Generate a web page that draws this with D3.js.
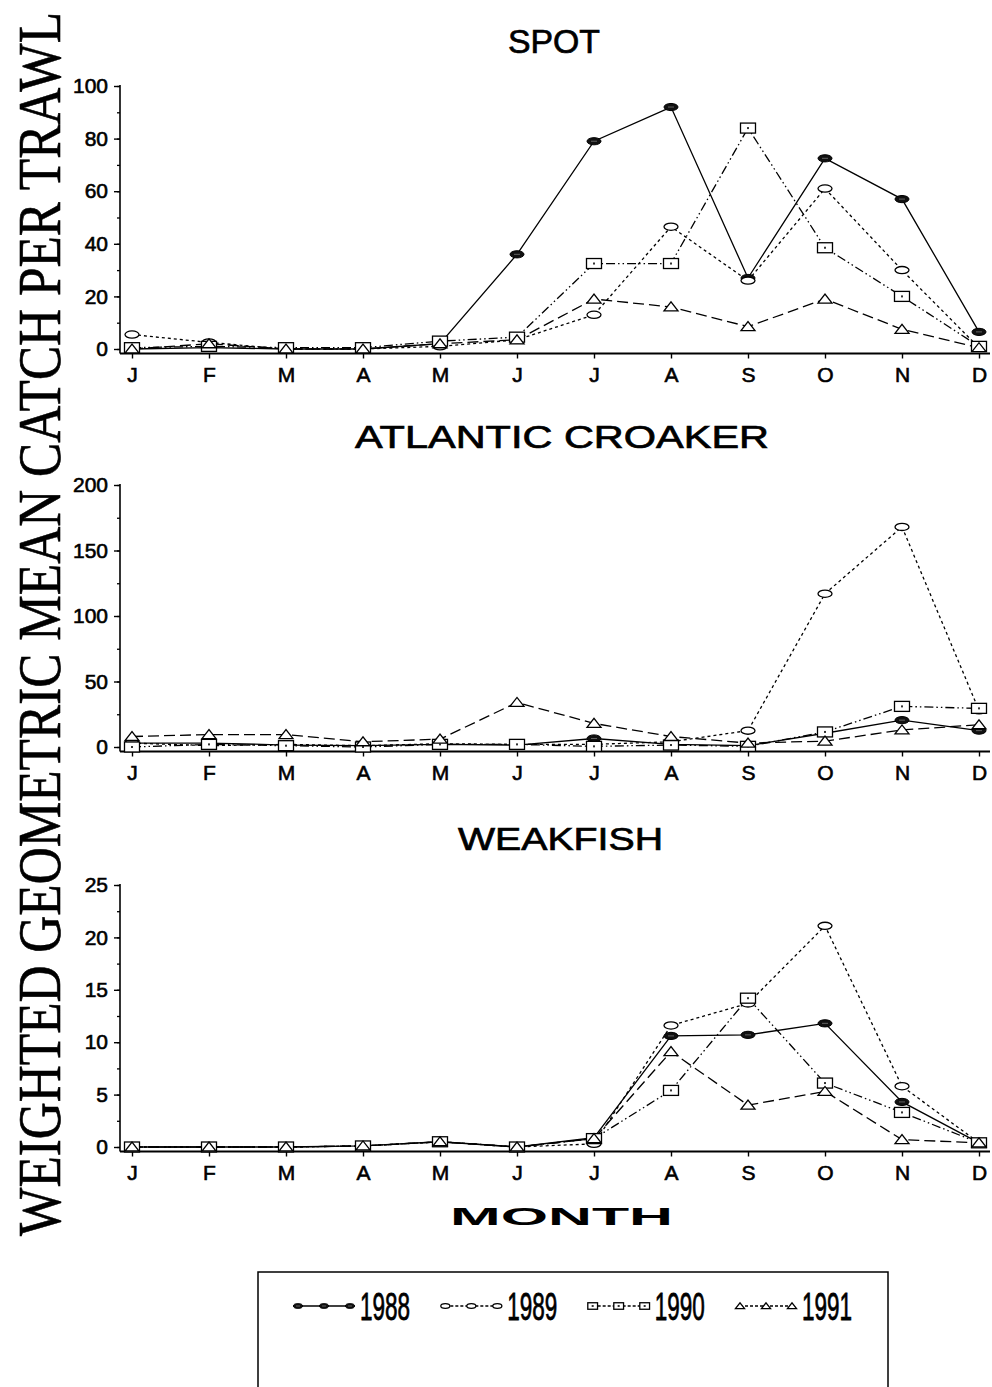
<!DOCTYPE html>
<html>
<head>
<meta charset="utf-8">
<script src="https://cdn.jsdelivr.net/npm/d3@7"></script>
<style>
  html, body { margin: 0; padding: 0; background: #fff; }
  svg { display: block; }
</style>
</head>
<body>
<script>
// Month labels along each x axis
const months = ["J", "F", "M", "A", "M", "J", "J", "A", "S", "O", "N", "D"];
const years = ["1988", "1989", "1990", "1991"];

// Spot: weighted geometric mean catch per trawl, Jan..Dec
const spot1988 = [0, 0.5, 0, 0, 2, 36, 79, 92, 27, 72.5, 57, 6.5];
const spot1989 = [5.5, 2.5, 0, 0, 1, 3.5, 13, 46.5, 26, 61, 30, 0.5];
const spot1990 = [0.5, 1, 0.5, 0.5, 3, 4.5, 32.5, 32.5, 84, 38.5, 20, 1];
const spot1991 = [0, 2, 0, 0, 2, 3.5, 19, 16, 8.5, 19, 7.5, 0.5];

// Atlantic croaker
const croaker1988 = [3, 3, 1.5, 1, 2, 1.5, 6.5, 2, 1, 10.5, 20.5, 12.5];
const croaker1989 = [3, 1, 2, 1, 2.5, 2, 2, 4, 12.5, 117, 168, 28];
const croaker1990 = [0, 2, 1, 0, 2, 2, 0.5, 1.5, 0.5, 11.5, 31, 29.5];
const croaker1991 = [8, 9.5, 9.5, 4, 6, 34, 18, 8, 3, 4.5, 13, 17];

// Weakfish
const weak1988 = [0, 0, 0, 0.1, 0.5, 0, 0.9, 10.6, 10.7, 11.8, 4.3, 0.4];
const weak1989 = [0, 0, 0, 0.1, 0.5, 0, 0.3, 11.6, 13.7, 21.1, 5.8, 0.4];
const weak1990 = [0, 0, 0, 0.1, 0.5, 0, 0.8, 5.4, 14.2, 6.1, 3.3, 0.4];
const weak1991 = [0, 0, 0, 0.1, 0.5, 0, 0.8, 9.1, 4.0, 5.3, 0.7, 0.4];

// Y tick values per panel
const spotTicks = [0, 20, 40, 60, 80, 100];
const croakerTicks = [0, 50, 100, 150, 200];
const weakTicks = [0, 5, 10, 15, 20, 25];

// Panel layout
const panels = [
  { title: "SPOT", titleX: 508, titleY: 53, titleW: 92, titleSize: 34,
    series: [spot1988, spot1989, spot1990, spot1991],
    ticks: spotTicks, minorStep: 10, top: 86, zero: 349 },
  { title: "ATLANTIC CROAKER", titleX: 355, titleY: 448, titleW: 414, titleSize: 32,
    series: [croaker1988, croaker1989, croaker1990, croaker1991],
    ticks: croakerTicks, minorStep: 25, top: 485, zero: 747 },
  { title: "WEAKFISH", titleX: 458, titleY: 850, titleW: 205, titleSize: 32,
    series: [weak1988, weak1989, weak1990, weak1991],
    ticks: weakTicks, minorStep: 2.5, top: 885, zero: 1147 }
];

const W = 992, H = 1387;
const axisLeftX = 120, axisRightX = 990;

// Per-series styles: line dash and marker kind
const styles = [
  { dash: null, marker: "filledEllipse" },
  { dash: "3,3", marker: "openEllipse" },
  { dash: "9,3,1.5,3,1.5,3", marker: "square" },
  { dash: "11,5", marker: "triangle" }
];

const svg = d3.select("body").append("svg")
  .attr("width", W).attr("height", H)
  .attr("font-family", "Liberation Sans, Arial, sans-serif");

const x = d3.scaleLinear().domain([0, 11]).range([132, 979]);

function drawMarker(g, kind, cx, cy, s) {
  if (kind === "filledEllipse") {
    g.append("ellipse").attr("cx", cx).attr("cy", cy)
      .attr("rx", 7 * s).attr("ry", 3.6 * s)
      .attr("fill", "#111").attr("stroke", "#000").attr("stroke-width", 1);
    g.append("line").attr("x1", cx - 3 * s).attr("x2", cx + 3 * s)
      .attr("y1", cy).attr("y2", cy)
      .attr("stroke", "#777").attr("stroke-width", 0.8);
  } else if (kind === "openEllipse") {
    g.append("ellipse").attr("cx", cx).attr("cy", cy)
      .attr("rx", 7 * s).attr("ry", 3.6 * s)
      .attr("fill", "#fff").attr("stroke", "#000").attr("stroke-width", 1.3);
  } else if (kind === "square") {
    g.append("rect").attr("x", cx - 7.5 * s).attr("y", cy - 5 * s)
      .attr("width", 15 * s).attr("height", 10 * s)
      .attr("fill", "#fff").attr("stroke", "#000").attr("stroke-width", 1.3);
    g.append("rect").attr("x", cx - 1).attr("y", cy - 1)
      .attr("width", 2).attr("height", 2).attr("fill", "#333");
  } else if (kind === "triangle") {
    g.append("path")
      .attr("d", `M${cx - 7 * s},${cy + 4 * s} L${cx + 7 * s},${cy + 4 * s} L${cx},${cy - 5 * s} Z`)
      .attr("fill", "#fff").attr("stroke", "#000").attr("stroke-width", 1.3);
  }
}

panels.forEach(p => {
  const maxV = p.ticks[p.ticks.length - 1];
  const y = d3.scaleLinear().domain([0, maxV]).range([p.zero, p.top]);
  const axisY = p.zero + 4.5;
  const g = svg.append("g");

  // Title
  g.append("text")
    .attr("x", p.titleX).attr("y", p.titleY)
    .attr("font-size", p.titleSize)
    .attr("textLength", p.titleW).attr("lengthAdjust", "spacingAndGlyphs")
    .attr("fill", "#000").attr("stroke", "#000").attr("stroke-width", 0.7)
    .text(p.title);

  // Y axis line
  g.append("line")
    .attr("x1", axisLeftX).attr("x2", axisLeftX)
    .attr("y1", p.top - 1).attr("y2", axisY)
    .attr("stroke", "#000").attr("stroke-width", 1.6);

  // Minor ticks
  const minor = d3.range(0, maxV + 0.001, p.minorStep);
  g.append("g")
    .attr("transform", `translate(${axisLeftX},0)`)
    .call(d3.axisLeft(y).tickValues(minor).tickSize(3).tickFormat(""))
    .call(a => a.select(".domain").remove())
    .selectAll("line").attr("stroke-width", 1.3);

  // Major ticks with labels
  const ya = g.append("g")
    .attr("transform", `translate(${axisLeftX},0)`)
    .call(d3.axisLeft(y).tickValues(p.ticks).tickSize(6).tickPadding(6).tickFormat(d3.format("d")));
  ya.select(".domain").remove();
  ya.selectAll("line").attr("stroke-width", 1.4);
  ya.selectAll("text")
    .attr("font-size", 21).attr("font-family", "Liberation Sans, Arial, sans-serif")
    .attr("fill", "#000").attr("stroke", "#000").attr("stroke-width", 0.6);

  // X axis line
  g.append("line")
    .attr("x1", axisLeftX).attr("x2", axisRightX)
    .attr("y1", axisY).attr("y2", axisY)
    .attr("stroke", "#000").attr("stroke-width", 2);

  const xa = g.append("g")
    .attr("transform", `translate(0,${axisY})`)
    .call(d3.axisBottom(x).tickValues(d3.range(12)).tickSize(5).tickPadding(9)
      .tickFormat(i => months[i]));
  xa.select(".domain").remove();
  xa.selectAll("line").attr("stroke-width", 1.4);
  xa.selectAll("text")
    .attr("font-size", 21).attr("font-family", "Liberation Sans, Arial, sans-serif")
    .attr("fill", "#000").attr("stroke", "#000").attr("stroke-width", 0.6);

  // Series lines
  const line = d3.line().x((d, i) => x(i)).y(d => y(d));
  p.series.forEach((vals, si) => {
    g.append("path")
      .datum(vals)
      .attr("d", line)
      .attr("fill", "none")
      .attr("stroke", "#000")
      .attr("stroke-width", 1.3)
      .attr("stroke-dasharray", styles[si].dash);
  });
  // Markers on top
  p.series.forEach((vals, si) => {
    const mg = g.append("g");
    vals.forEach((v, i) => drawMarker(mg, styles[si].marker, x(i), y(v), 1));
  });
});

// Vertical axis title: tall, tightly set serif caps
svg.append("text")
  .attr("transform", "translate(60,624) rotate(-90) scale(1,1.24)")
  .attr("text-anchor", "middle")
  .attr("font-family", "Liberation Serif, Times New Roman, serif")
  .attr("font-size", 50)
  .attr("textLength", 1224).attr("lengthAdjust", "spacingAndGlyphs")
  .attr("fill", "#000").attr("stroke", "#000").attr("stroke-width", 0.5)
  .text("WEIGHTED GEOMETRIC MEAN CATCH PER TRAWL");

// Horizontal axis title
svg.append("text")
  .attr("x", 450).attr("y", 1225)
  .attr("font-size", 24).attr("font-weight", "bold")
  .attr("textLength", 223).attr("lengthAdjust", "spacingAndGlyphs")
  .attr("fill", "#000")
  .text("MONTH");

// Legend
const legend = svg.append("g");
legend.append("rect")
  .attr("x", 258).attr("y", 1272).attr("width", 630).attr("height", 140)
  .attr("fill", "none").attr("stroke", "#000").attr("stroke-width", 1.5);

const legendX = d3.scalePoint().domain(years).range([298, 740]);
years.forEach((yr, si) => {
  const lx = legendX(yr), ly = 1306;
  const lg = legend.append("g");
  lg.append("line")
    .attr("x1", lx).attr("x2", lx + 52).attr("y1", ly).attr("y2", ly)
    .attr("stroke", "#000").attr("stroke-width", 1.3)
    .attr("stroke-dasharray", si === 0 ? null : "3,2");
  [0, 26, 52].forEach(dx => drawMarker(lg, styles[si].marker, lx + dx, ly, 0.65));
  lg.append("text")
    .attr("x", lx + 62).attr("y", ly + 14)
    .attr("font-size", 38)
    .attr("textLength", 50).attr("lengthAdjust", "spacingAndGlyphs")
    .attr("fill", "#000").attr("stroke", "#000").attr("stroke-width", 0.8)
    .text(yr);
});
</script>
</body>
</html>
